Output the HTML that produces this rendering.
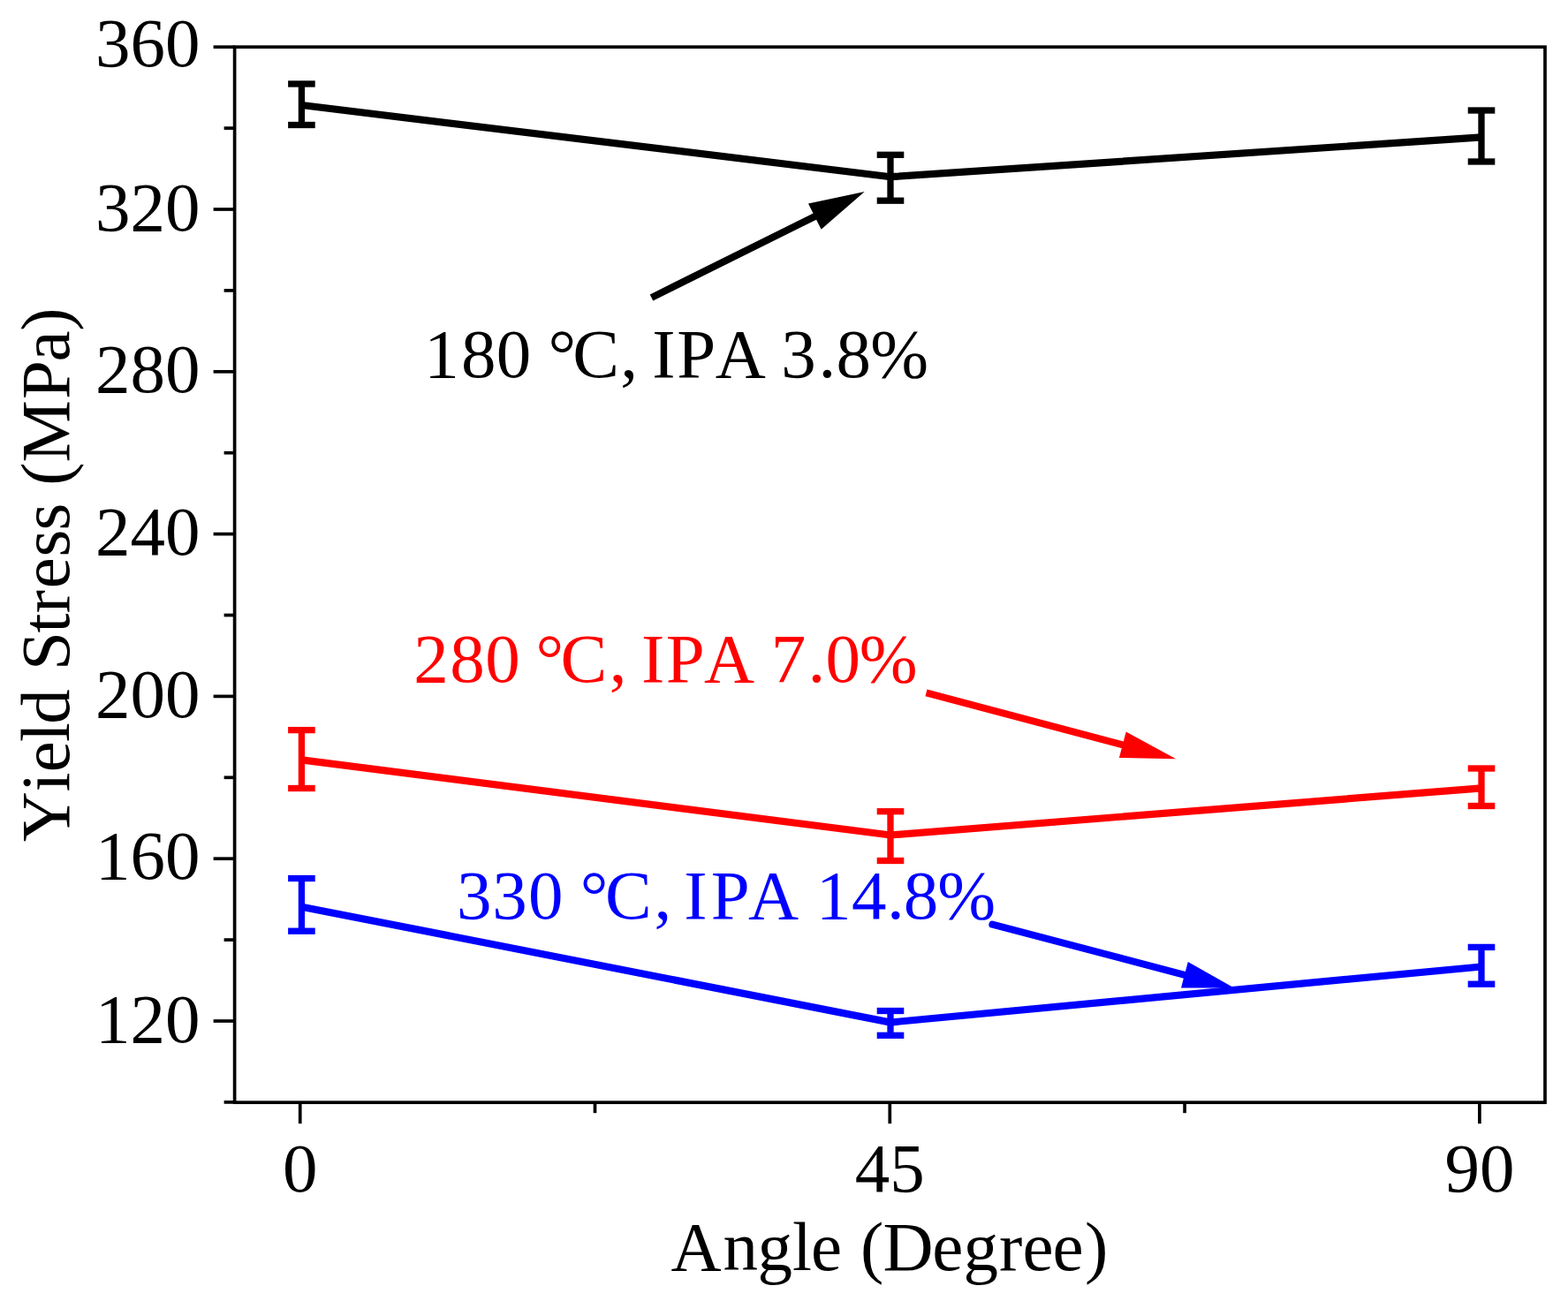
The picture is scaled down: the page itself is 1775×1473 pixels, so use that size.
<!DOCTYPE html>
<html><head><meta charset="utf-8"><title>Yield Stress vs Angle</title>
<style>html,body{margin:0;padding:0;background:#fff;overflow:hidden}svg{display:block}
text{font-family:"Liberation Serif","Times New Roman",serif;font-size:79px;fill:#000;font-kerning:none}</style></head>
<body><svg width="1775" height="1473" viewBox="0 0 1775 1473">
<rect x="0" y="0" width="1775" height="1473" fill="#fff"/>
<rect x="265.6" y="53.2" width="1483.4" height="1195.0" fill="none" stroke="#000" stroke-width="3.7"/>
<line x1="253.6" y1="1247.9" x2="265.6" y2="1247.9" stroke="#000" stroke-width="3.7"/>
<line x1="241.6" y1="1156.0" x2="265.6" y2="1156.0" stroke="#000" stroke-width="3.7"/>
<line x1="253.6" y1="1064.1" x2="265.6" y2="1064.1" stroke="#000" stroke-width="3.7"/>
<line x1="241.6" y1="972.2" x2="265.6" y2="972.2" stroke="#000" stroke-width="3.7"/>
<line x1="253.6" y1="880.3" x2="265.6" y2="880.3" stroke="#000" stroke-width="3.7"/>
<line x1="241.6" y1="788.4" x2="265.6" y2="788.4" stroke="#000" stroke-width="3.7"/>
<line x1="253.6" y1="696.5" x2="265.6" y2="696.5" stroke="#000" stroke-width="3.7"/>
<line x1="241.6" y1="604.6" x2="265.6" y2="604.6" stroke="#000" stroke-width="3.7"/>
<line x1="253.6" y1="512.7" x2="265.6" y2="512.7" stroke="#000" stroke-width="3.7"/>
<line x1="241.6" y1="420.8" x2="265.6" y2="420.8" stroke="#000" stroke-width="3.7"/>
<line x1="253.6" y1="328.9" x2="265.6" y2="328.9" stroke="#000" stroke-width="3.7"/>
<line x1="241.6" y1="237.0" x2="265.6" y2="237.0" stroke="#000" stroke-width="3.7"/>
<line x1="253.6" y1="145.1" x2="265.6" y2="145.1" stroke="#000" stroke-width="3.7"/>
<line x1="241.6" y1="53.2" x2="265.6" y2="53.2" stroke="#000" stroke-width="3.7"/>
<line x1="339.7" y1="1248.2" x2="339.7" y2="1272.2" stroke="#000" stroke-width="3.7"/>
<line x1="673.5" y1="1248.2" x2="673.5" y2="1260.2" stroke="#000" stroke-width="3.7"/>
<line x1="1007.3" y1="1248.2" x2="1007.3" y2="1272.2" stroke="#000" stroke-width="3.7"/>
<line x1="1341.1" y1="1248.2" x2="1341.1" y2="1260.2" stroke="#000" stroke-width="3.7"/>
<line x1="1674.9" y1="1248.2" x2="1674.9" y2="1272.2" stroke="#000" stroke-width="3.7"/>
<polyline points="341.4,119.0 1008.0,200.2 1677.0,155.4" fill="none" stroke="#000" stroke-width="8.2" stroke-linejoin="miter"/>
<line x1="341.4" y1="95.0" x2="341.4" y2="141.5" stroke="#000" stroke-width="7.3"/>
<line x1="326.1" y1="95.0" x2="356.7" y2="95.0" stroke="#000" stroke-width="7.3"/>
<line x1="326.1" y1="141.5" x2="356.7" y2="141.5" stroke="#000" stroke-width="7.3"/>
<line x1="1008.0" y1="175.3" x2="1008.0" y2="227.2" stroke="#000" stroke-width="7.3"/>
<line x1="992.7" y1="175.3" x2="1023.3" y2="175.3" stroke="#000" stroke-width="7.3"/>
<line x1="992.7" y1="227.2" x2="1023.3" y2="227.2" stroke="#000" stroke-width="7.3"/>
<line x1="1677.0" y1="125.0" x2="1677.0" y2="183.0" stroke="#000" stroke-width="7.3"/>
<line x1="1661.7" y1="125.0" x2="1692.3" y2="125.0" stroke="#000" stroke-width="7.3"/>
<line x1="1661.7" y1="183.0" x2="1692.3" y2="183.0" stroke="#000" stroke-width="7.3"/>
<polyline points="341.4,860.4 1008.0,945.5 1677.0,892.3" fill="none" stroke="#f00" stroke-width="8.2" stroke-linejoin="miter"/>
<line x1="341.4" y1="826.6" x2="341.4" y2="892.5" stroke="#f00" stroke-width="7.3"/>
<line x1="326.1" y1="826.6" x2="356.7" y2="826.6" stroke="#f00" stroke-width="7.3"/>
<line x1="326.1" y1="892.5" x2="356.7" y2="892.5" stroke="#f00" stroke-width="7.3"/>
<line x1="1008.0" y1="918.7" x2="1008.0" y2="974.5" stroke="#f00" stroke-width="7.3"/>
<line x1="992.7" y1="918.7" x2="1023.3" y2="918.7" stroke="#f00" stroke-width="7.3"/>
<line x1="992.7" y1="974.5" x2="1023.3" y2="974.5" stroke="#f00" stroke-width="7.3"/>
<line x1="1677.0" y1="870.0" x2="1677.0" y2="912.5" stroke="#f00" stroke-width="7.3"/>
<line x1="1661.7" y1="870.0" x2="1692.3" y2="870.0" stroke="#f00" stroke-width="7.3"/>
<line x1="1661.7" y1="912.5" x2="1692.3" y2="912.5" stroke="#f00" stroke-width="7.3"/>
<polyline points="341.4,1026.7 1008.0,1157.5 1677.0,1094.5" fill="none" stroke="#00f" stroke-width="8.2" stroke-linejoin="miter"/>
<line x1="341.4" y1="994.5" x2="341.4" y2="1054.2" stroke="#00f" stroke-width="7.3"/>
<line x1="326.1" y1="994.5" x2="356.7" y2="994.5" stroke="#00f" stroke-width="7.3"/>
<line x1="326.1" y1="1054.2" x2="356.7" y2="1054.2" stroke="#00f" stroke-width="7.3"/>
<line x1="1008.0" y1="1144.5" x2="1008.0" y2="1172.3" stroke="#00f" stroke-width="7.3"/>
<line x1="992.7" y1="1144.5" x2="1023.3" y2="1144.5" stroke="#00f" stroke-width="7.3"/>
<line x1="992.7" y1="1172.3" x2="1023.3" y2="1172.3" stroke="#00f" stroke-width="7.3"/>
<line x1="1677.0" y1="1072.4" x2="1677.0" y2="1114.2" stroke="#00f" stroke-width="7.3"/>
<line x1="1661.7" y1="1072.4" x2="1692.3" y2="1072.4" stroke="#00f" stroke-width="7.3"/>
<line x1="1661.7" y1="1114.2" x2="1692.3" y2="1114.2" stroke="#00f" stroke-width="7.3"/>
<line x1="737.5" y1="337.0" x2="925.9" y2="243.3" stroke="#000" stroke-width="8.0" stroke-linecap="butt"/><polygon points="978.7,217.0 929.6,259.7 915.0,230.5" fill="#000"/>
<line x1="1048.5" y1="784.3" x2="1274.7" y2="844.3" stroke="#f00" stroke-width="8.0" stroke-linecap="butt"/><polygon points="1331.2,859.3 1266.9,858.0 1274.7,828.6" fill="#f00"/>
<line x1="1123.4" y1="1046.7" x2="1344.8" y2="1104.8" stroke="#00f" stroke-width="8.0" stroke-linecap="round"/><polygon points="1397.0,1118.5 1337.0,1118.6 1344.8,1089.0" fill="#00f"/>
<text x="226.4" y="1179.6" text-anchor="end">120</text>
<text x="226.4" y="995.0" text-anchor="end">160</text>
<text x="226.4" y="812.0" text-anchor="end">200</text>
<text x="226.4" y="628.1" text-anchor="end">240</text>
<text x="226.4" y="444.0" text-anchor="end">280</text>
<text x="226.4" y="260.6" text-anchor="end">320</text>
<text x="226.4" y="74.8" text-anchor="end">360</text>
<text x="339.7" y="1349.2" text-anchor="middle">0</text>
<text x="1007.3" y="1349.2" text-anchor="middle">45</text>
<text x="1674.9" y="1349.2" text-anchor="middle">90</text>
<text x="759.5 818.5 857.5 896.9 917.9 953.0 974.0 999.4 1055.3 1090.4 1131.1 1157.5 1191.5 1227.9" y="1437.6">Angle (Degree)</text>
<text transform="translate(78.0,1000.0) rotate(-90)" x="46.8 103.5 125.8 160.1 180.3 219.8 240.9 283.4 305.7 333.7 369.5 399.6 430.4 450.2 476.4 548.0 590.6 625.2" y="0">Yield Stress (MPa)</text>
<text x="480.3 522.0 561.8 601.3 620.4 648.3 702.2 722.0 738.3 766.2 809.8 866.8 884.2 926.4 946.5 985.2" y="426.8">180 °C, IPA 3.8%</text>
<text x="468.3 509.2 549.3 588.8 606.5 634.6 689.8 709.6 726.1 753.7 797.0 854.0 872.8 914.4 934.4 972.8" y="772.4" style="fill:#f00">280 °C, IPA 7.0%</text>
<text x="517.1 557.3 598.0 637.5 656.7 684.9 740.4 760.1 774.3 804.7 847.0 904.0 924.0 963.9 1004.1 1022.7 1061.3" y="1040.0" style="fill:#00f">330 °C, IPA 14.8%</text>
</svg></body></html>
